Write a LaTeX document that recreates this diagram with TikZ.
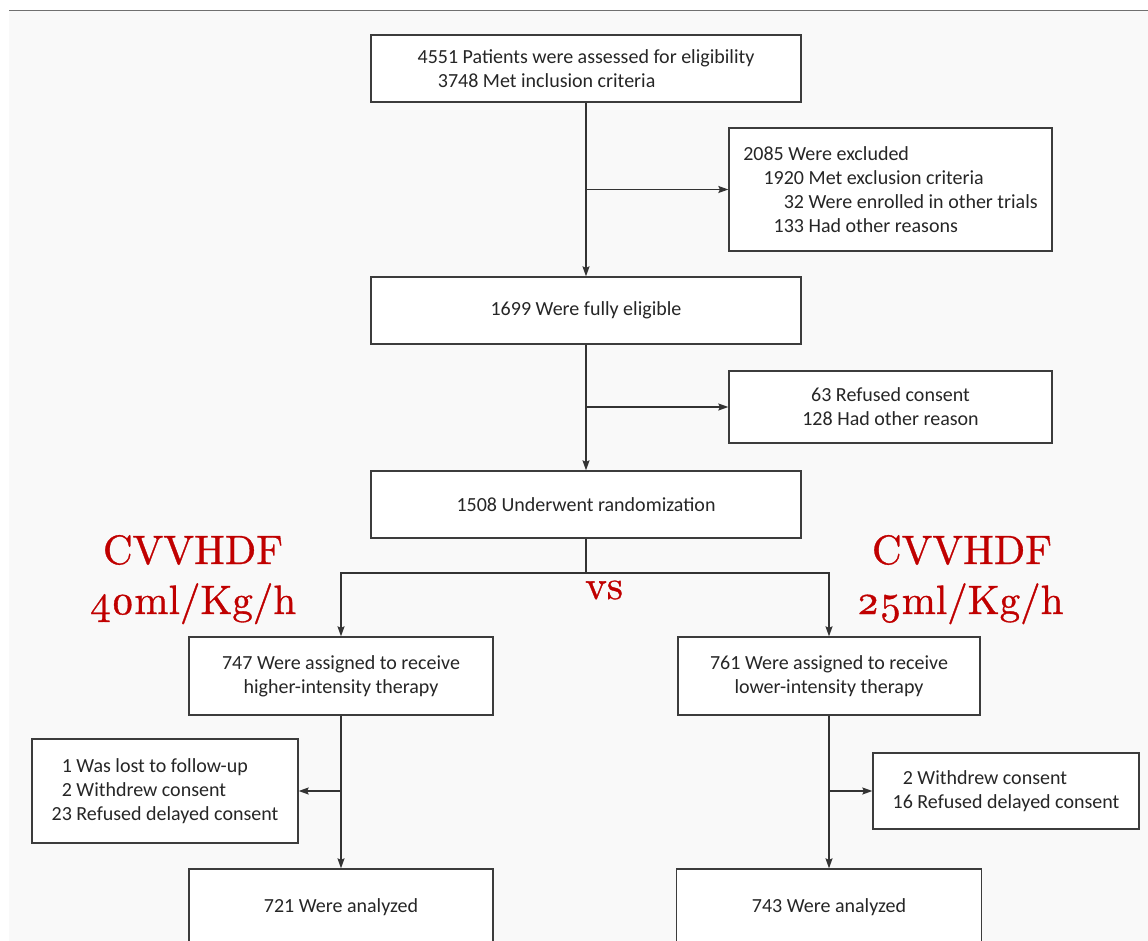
\documentclass[tikz,border=0pt]{standalone}
\usepackage{fontspec}
\usetikzlibrary{arrows.meta}
\newfontfamily\bodyfont{Carlito}
\newfontfamily\redfont{lmroman10-regular}[Extension=.otf,Numbers=OldStyle,FakeBold=0.8]
\definecolor{bgc}{HTML}{F9F9F9}
\definecolor{boxc}{HTML}{3C3C3C}
\definecolor{linec}{HTML}{333333}
\definecolor{txt}{HTML}{262626}
\definecolor{redc}{HTML}{C00000}
\definecolor{rulec}{HTML}{707070}
\begin{document}
\begin{tikzpicture}[x=1pt,y=-1pt,
  box/.style={draw=boxc, fill=white, line width=1.3pt, inner sep=0pt, text=txt,
    font=\bodyfont\fontsize{20}{24}\selectfont, align=center},
  conn/.style={draw=linec, line width=1.3pt},
  arr/.style={conn, -{Stealth[length=10pt,width=7pt,inset=1.5pt]}},
  redlbl/.style={text=redc, font=\redfont\fontsize{41}{50}\selectfont\bfseries, inner sep=0pt}]
\useasboundingbox (0,0) rectangle (1148,941);
\clip (0,0) rectangle (1148,941);
\fill[bgc] (9,10.5) rectangle (1148,941);
\draw[rulec, line width=1pt] (9,10.5) -- (1148,10.5);

\node[box, align=left, minimum width=430pt, minimum height=67pt] (top) at (586,68.5)
  {4551 Patients were assessed for eligibility\\\phantom{00}3748 Met inclusion criteria};
\node[box, align=left, minimum width=323pt, minimum height=123pt] (excl) at (890.5,189.5)
  {2085 Were excluded\\\phantom{00}1920 Met exclusion criteria\\\phantom{0000}32 Were enrolled in other trials\\\phantom{000}133 Had other reasons};
\node[box, minimum width=430pt, minimum height=67pt] (elig) at (586,310.5) {1699 Were fully eligible};
\node[box, minimum width=323pt, minimum height=72pt] (ref) at (890.5,407) {63 Refused consent\\128 Had other reason};
\node[box, minimum width=430pt, minimum height=67pt] (rand) at (586,504.5) {1508 Underwent randomization};
\node[box, minimum width=304pt, minimum height=78pt] (la) at (341,676) {747 Were assigned to receive\\higher-intensity therapy};
\node[box, minimum width=302pt, minimum height=78pt] (ra) at (829,676) {761 Were assigned to receive\\lower-intensity therapy};
\node[box, align=left, minimum width=266pt, minimum height=104pt] (lw) at (165,791)
  {\phantom{0}1 Was lost to follow-up\\\phantom{0}2 Withdrew consent\\23 Refused delayed consent};
\node[box, align=left, minimum width=266pt, minimum height=76pt] (rw) at (1006,791)
  {\phantom{0}2 Withdrew consent\\16 Refused delayed consent};
\node[box, minimum width=304pt, minimum height=76pt] (lan) at (341,907) {721 Were analyzed};
\node[box, minimum width=305pt, minimum height=76pt] (ran) at (829,907) {743 Were analyzed};

\coordinate (split) at (586,573);
\draw[arr] (top.south) -- (elig.north);
\draw[arr] (top.south |- excl.west) -- (excl.west);
\draw[arr] (elig.south) -- (rand.north);
\draw[arr] (elig.south |- ref.west) -- (ref.west);
\draw[conn] (rand.south) -- (split);
\draw[arr] (split) -| (la.north);
\draw[arr] (split) -| (ra.north);
\draw[arr] (la.south) -- (lan.north);
\draw[arr] (la.south |- lw.east) -- (lw.east);
\draw[arr] (ra.south) -- (ran.north);
\draw[arr] (ra.south |- rw.west) -- (rw.west);

\node[redlbl, anchor=base] (lt1) at (193,564) {CVVHDF};
\node[redlbl, anchor=base] (lt2) at (193,614) {40ml/Kg/h};
\node[redlbl, anchor=base] (rt1) at (962,564) {CVVHDF};
\node[redlbl, anchor=base] (rt2) at (960,614) {25ml/Kg/h};
\node[redlbl, anchor=base west] (vs) at (585,599) {vs};
\end{tikzpicture}
\end{document}
